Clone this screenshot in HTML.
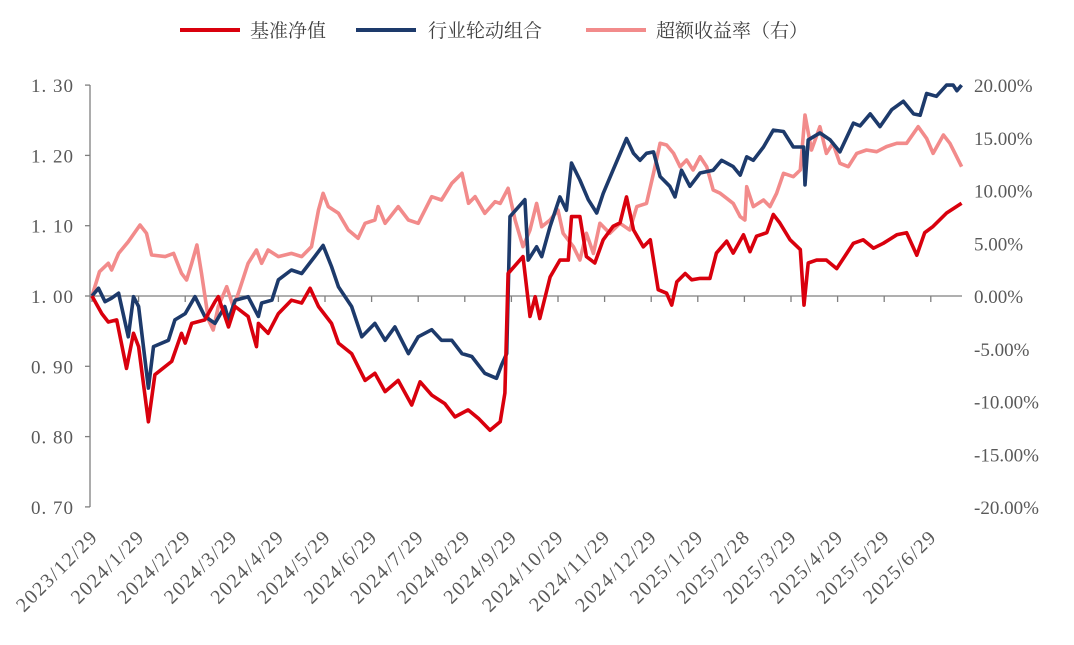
<!DOCTYPE html>
<html><head><meta charset="utf-8"><style>
body{margin:0;background:#fff;}
svg{display:block;font-family:"Liberation Serif","Noto Serif CJK SC",serif;}
</style></head><body>
<svg id="chart" width="1074" height="645" viewBox="0 0 1074 645" xmlns="http://www.w3.org/2000/svg">
<g id="legend">
 <g><line x1="180" y1="30" x2="240" y2="30" stroke="#d9000d" stroke-width="4"/><text x="250" y="37" font-size="19" fill="#404040">基准净值</text></g>
 <g><line x1="356" y1="30" x2="416" y2="30" stroke="#1d3a6b" stroke-width="4"/><text x="428" y="37" font-size="19" fill="#404040">行业轮动组合</text></g>
 <g><line x1="586" y1="30" x2="646" y2="30" stroke="#f28b8b" stroke-width="4"/><text x="656" y="37" font-size="19" fill="#404040">超额收益率（右）</text></g>
</g>
<g id="axes"></g>
<g id="series"></g>
</svg>
<script>
const xTickLabels=["2023/12/29","2024/1/29","2024/2/29","2024/3/29","2024/4/29","2024/5/29","2024/6/29","2024/7/29","2024/8/29","2024/9/29","2024/10/29","2024/11/29","2024/12/29","2025/1/29","2025/2/28","2025/3/29","2025/4/29","2025/5/29","2025/6/29"];
const leftTicks=[1.30,1.20,1.10,1.00,0.90,0.80,0.70];
const rightTicks=[20,15,10,5,0,-5,-10,-15,-20];
const portMonths=[0,0.14,0.28,0.42,0.57,0.78,0.89,1.0,1.21,1.32,1.64,1.78,2.0,2.21,2.42,2.64,2.85,2.93,3.07,3.35,3.57,3.64,3.86,4.0,4.28,4.5,4.78,4.96,5.14,5.29,5.57,5.79,6.07,6.29,6.5,6.79,7.0,7.29,7.5,7.72,7.94,8.15,8.43,8.68,8.79,8.9,8.97,9.29,9.36,9.54,9.65,9.83,10.04,10.18,10.29,10.47,10.65,10.83,10.97,11.18,11.47,11.62,11.76,11.9,12.05,12.19,12.4,12.51,12.65,12.83,13.05,13.33,13.51,13.76,13.91,14.05,14.19,14.41,14.62,14.84,15.05,15.27,15.3,15.37,15.62,15.84,16.05,16.34,16.48,16.7,16.91,17.16,17.41,17.63,17.77,17.91,18.12,18.34,18.48,18.56,18.66];
const portValues=[1.000,1.011,0.992,0.997,1.004,0.942,0.999,0.985,0.869,0.928,0.937,0.966,0.975,0.999,0.971,0.961,0.985,0.966,0.994,0.999,0.971,0.990,0.994,1.023,1.037,1.032,1.056,1.072,1.042,1.013,0.985,0.942,0.961,0.937,0.956,0.918,0.942,0.952,0.937,0.937,0.918,0.914,0.890,0.883,0.902,0.918,1.113,1.137,1.051,1.070,1.056,1.099,1.141,1.122,1.189,1.165,1.137,1.118,1.146,1.179,1.224,1.203,1.193,1.203,1.205,1.170,1.156,1.141,1.179,1.156,1.175,1.179,1.193,1.184,1.172,1.198,1.193,1.212,1.236,1.234,1.212,1.212,1.158,1.222,1.232,1.222,1.205,1.246,1.242,1.259,1.241,1.265,1.277,1.259,1.257,1.288,1.284,1.300,1.300,1.292,1.300];
const benchMonths=[0,0.21,0.35,0.53,0.74,0.89,1.0,1.21,1.35,1.71,1.92,2.0,2.14,2.42,2.64,2.71,2.93,3.07,3.35,3.53,3.57,3.78,4.0,4.28,4.5,4.68,4.86,5.14,5.29,5.57,5.86,6.07,6.29,6.57,6.86,7.04,7.29,7.57,7.79,8.07,8.29,8.54,8.76,8.86,8.93,9.25,9.4,9.51,9.61,9.83,10.04,10.22,10.29,10.47,10.61,10.79,10.97,11.18,11.33,11.47,11.62,11.83,11.98,12.15,12.33,12.44,12.55,12.73,12.87,13.05,13.26,13.4,13.62,13.76,13.98,14.12,14.26,14.48,14.62,14.76,14.98,15.2,15.28,15.37,15.55,15.76,15.98,16.34,16.55,16.77,16.98,17.27,17.48,17.7,17.87,18.05,18.34,18.66];
const benchValues=[1.000,0.975,0.963,0.966,0.897,0.947,0.928,0.821,0.888,0.907,0.947,0.933,0.961,0.966,0.992,0.999,0.956,0.985,0.971,0.928,0.961,0.947,0.975,0.994,0.990,1.011,0.985,0.961,0.933,0.918,0.880,0.890,0.864,0.880,0.845,0.878,0.859,0.847,0.828,0.838,0.826,0.809,0.821,0.862,1.032,1.056,0.971,0.999,0.968,1.027,1.051,1.051,1.113,1.113,1.056,1.047,1.080,1.099,1.104,1.141,1.094,1.070,1.080,1.009,1.004,0.987,1.020,1.032,1.023,1.025,1.025,1.061,1.078,1.061,1.087,1.063,1.085,1.090,1.116,1.104,1.080,1.066,0.987,1.047,1.051,1.051,1.039,1.075,1.080,1.068,1.075,1.087,1.090,1.058,1.090,1.099,1.118,1.132];
const excessMonths=[0,0.16,0.35,0.42,0.57,0.78,1.03,1.17,1.28,1.57,1.75,1.92,2.03,2.14,2.25,2.35,2.5,2.6,2.71,2.89,3.03,3.14,3.35,3.53,3.64,3.78,4.0,4.28,4.5,4.71,4.86,4.96,5.07,5.29,5.5,5.71,5.86,6.07,6.14,6.29,6.57,6.79,7.0,7.29,7.5,7.72,7.94,8.08,8.22,8.43,8.65,8.76,8.93,9.08,9.25,9.4,9.54,9.65,9.83,10.0,10.11,10.33,10.47,10.61,10.76,10.9,11.11,11.33,11.54,11.69,11.9,12.05,12.19,12.33,12.48,12.62,12.76,12.9,13.05,13.19,13.33,13.48,13.62,13.76,13.91,14.01,14.05,14.19,14.41,14.55,14.69,14.84,15.05,15.2,15.3,15.44,15.62,15.76,15.9,16.05,16.23,16.41,16.62,16.84,17.05,17.27,17.48,17.73,17.91,18.05,18.27,18.41,18.52,18.66];
const excessValues=[0,2.30,3.10,2.46,4.04,5.15,6.73,5.94,3.89,3.73,4.04,2.15,1.52,3.10,4.83,2.15,-2.27,-3.22,-1.0,0.88,-1.0,0.25,3.10,4.36,3.10,4.36,3.73,4.04,3.73,4.67,8.15,9.73,8.47,7.84,6.26,5.47,6.89,7.20,8.47,6.89,8.47,7.20,6.89,9.41,9.10,10.68,11.63,8.79,9.41,7.84,8.94,8.78,10.21,7.20,4.67,6.26,8.78,6.57,7.20,8.15,5.94,4.67,3.41,5.94,4.04,6.89,5.94,6.89,6.26,8.47,8.78,11.63,14.47,14.31,13.52,12.26,12.89,11.94,13.2,12.26,10.05,9.73,9.26,8.78,7.52,7.20,10.36,8.47,9.10,8.47,9.73,11.63,11.31,11.94,17.16,13.84,16.05,13.52,14.47,12.58,12.26,13.52,13.84,13.68,14.16,14.47,14.47,16.05,14.94,13.52,15.26,14.47,13.52,12.26];

const NS="http://www.w3.org/2000/svg";
const x0=92, mW=46.6;
function xs(m){return x0+m*mW;}
function yL(v){return 296-(v-1)*703;}
function yR(p){return 296-p*10.55;}
function mk(tag,attrs,parent){const e=document.createElementNS(NS,tag);for(const k in attrs)e.setAttribute(k,attrs[k]);parent.appendChild(e);return e;}
const axes=document.getElementById('axes');
const ser=document.getElementById('series');
const la=mk('line',{x1:90,y1:85,x2:90,y2:507,stroke:'#7f7f7f','stroke-width':1.3},axes);


leftTicks.forEach(v=>{
 const t=mk('line',{x1:85,x2:90,y1:yL(v),y2:yL(v),stroke:'#7f7f7f','stroke-width':1.3},axes);
 
 
 const tx=mk('text',{x:74,y:yL(v)+7,'text-anchor':'end','font-size':19,fill:'#595959','letter-spacing':'1'},axes);
 tx.textContent=v.toFixed(2).replace('.','. ');
 
 
});
rightTicks.forEach(p=>{
 const tx=mk('text',{x:974,y:yR(p)+7,'font-size':19,fill:'#595959'},axes);
 tx.textContent=p.toFixed(2)+'%';
 
 
});
const xa=mk('line',{x1:90,y1:296,x2:962,y2:296,stroke:'#7f7f7f','stroke-width':1.3},axes);


xTickLabels.forEach((l,i)=>{
 const x=xs(i);
 const t=mk('line',{x1:x,x2:x,y1:296,y2:302,stroke:'#7f7f7f','stroke-width':1.3},axes);
 
 
 const tx=mk('text',{x:0,y:0,'text-anchor':'end','font-size':20,'letter-spacing':'1.5',fill:'#595959',transform:`translate(${x+7},${538}) rotate(-45)`},axes);
 tx.textContent=l;
 
 
});
function path(ms,vs,yf,color,name){
 const d=ms.map((m,i)=>(i?'L':'M')+xs(m).toFixed(1)+','+yf(vs[i]).toFixed(1)).join('');
 const p=mk('path',{d:d,fill:'none',stroke:color,'stroke-width':3.6,'stroke-linejoin':'round'},ser);
 
 
}
path(excessMonths,excessValues,yR,'#f28b8b','excess-return-line');
path(portMonths,portValues,yL,'#1d3a6b','portfolio-line');
path(benchMonths,benchValues,yL,'#d9000d','benchmark-line');
</script>
</body></html>
